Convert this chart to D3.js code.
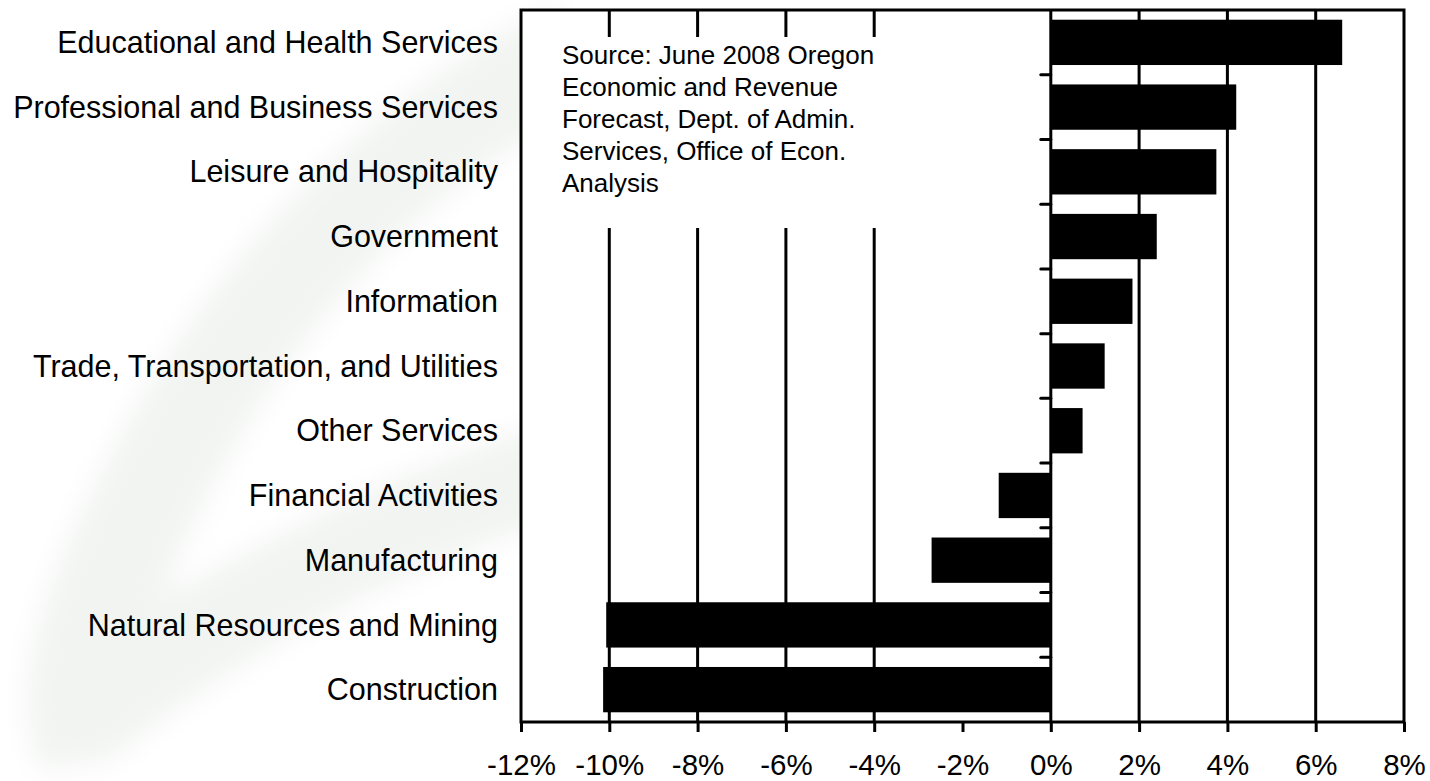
<!DOCTYPE html>
<html>
<head>
<meta charset="utf-8">
<script src="https://cdn.jsdelivr.net/npm/d3@7"></script>
<style>
  html, body { margin: 0; padding: 0; background: #ffffff; }
  svg { display: block; }
  text { font-family: "Liberation Sans", Arial, Helvetica, sans-serif; fill: #000; }
</style>
</head>
<body>
<svg id="chart" width="1430" height="781"></svg>
<script>
// ---- data ----
const categories = [
  "Educational and Health Services",
  "Professional and Business Services",
  "Leisure and Hospitality",
  "Government",
  "Information",
  "Trade, Transportation, and Utilities",
  "Other Services",
  "Financial Activities",
  "Manufacturing",
  "Natural Resources and Mining",
  "Construction"
];
const values = [6.6, 4.2, 3.75, 2.4, 1.85, 1.22, 0.72, -1.18, -2.7, -10.07, -10.14];
const xTicks = [-12, -10, -8, -6, -4, -2, 0, 2, 4, 6, 8];
const gridTicks = [-10, -8, -6, -4, 2, 4, 6];
const sourceLines = [
  "Source: June 2008 Oregon",
  "Economic and Revenue",
  "Forecast, Dept. of Admin.",
  "Services, Office of Econ.",
  "Analysis"
];

// ---- layout ----
const plot = { left: 521, right: 1404, top: 10, bottom: 722 };
const svg = d3.select("#chart");

// faint watermark swoosh in background
const defs = svg.append("defs");
defs.append("filter").attr("id", "blur").append("feGaussianBlur").attr("stdDeviation", 14);
svg.append("path")
  .attr("d", "M560,0 C330,120 170,300 60,560 C20,660 20,720 40,770 L110,760 C260,640 420,560 560,520 L560,420 C420,460 300,520 160,600 C250,380 380,220 560,120 Z")
  .attr("fill", "#f2f4f2")
  .attr("filter", "url(#blur)");

const x = d3.scaleLinear().domain([-12, 8]).range([plot.left, plot.right]);
const y = d3.scaleBand().domain(categories).range([plot.top, plot.bottom])
  .paddingInner(0.3).paddingOuter(0.15);

// plot background
svg.append("rect")
  .attr("x", plot.left).attr("y", plot.top)
  .attr("width", plot.right - plot.left).attr("height", plot.bottom - plot.top)
  .attr("fill", "#ffffff");

// gridlines
svg.append("g").selectAll("line").data(gridTicks).join("line")
  .attr("x1", d => x(d)).attr("x2", d => x(d))
  .attr("y1", plot.top).attr("y2", plot.bottom)
  .attr("stroke", "#000").attr("stroke-width", 3);

// source text box (white, hides gridlines)
const boxX = 541, boxY = 37, boxW = 440, boxH = 191;
svg.append("rect").attr("x", boxX).attr("y", boxY).attr("width", boxW).attr("height", boxH).attr("fill", "#fff");
svg.append("g").selectAll("text").data(sourceLines).join("text")
  .attr("x", 562)
  .attr("y", (d, i) => 64 + i * 32)
  .attr("font-size", 26)
  .text(d => d);

// bars
svg.append("g").selectAll("rect").data(values).join("rect")
  .attr("x", d => x(Math.min(0, d)))
  .attr("width", d => Math.abs(x(d) - x(0)))
  .attr("y", (d, i) => y(categories[i]))
  .attr("height", y.bandwidth())
  .attr("fill", "#000");

// zero axis line
svg.append("line")
  .attr("x1", x(0)).attr("x2", x(0))
  .attr("y1", plot.top).attr("y2", plot.bottom)
  .attr("stroke", "#000").attr("stroke-width", 3);

// category tick marks at band boundaries on zero axis
const boundaries = categories.slice(1).map(c => y(c) - y.step() * y.paddingInner() / 2);
svg.append("g").selectAll("line").data(boundaries).join("line")
  .attr("x1", x(0) - 10).attr("x2", x(0))
  .attr("y1", d => d).attr("y2", d => d)
  .attr("stroke", "#000").attr("stroke-width", 3).attr("stroke-linecap", "round");

// frame
svg.append("rect")
  .attr("x", plot.left).attr("y", plot.top)
  .attr("width", plot.right - plot.left).attr("height", plot.bottom - plot.top)
  .attr("fill", "none").attr("stroke", "#000").attr("stroke-width", 3);

// bottom x axis
const xAxis = d3.axisBottom(x).tickValues(xTicks).tickSize(10).tickPadding(22)
  .tickFormat(d => d + "%");
const gx = svg.append("g").attr("transform", `translate(0,${plot.bottom})`).call(xAxis);
gx.select(".domain").remove();
gx.selectAll(".tick line").attr("stroke", "#000").attr("stroke-width", 3);
gx.selectAll(".tick text").attr("font-size", 29.5)
  .attr("font-family", '"Liberation Sans", Arial, sans-serif').attr("fill", "#000");

// category labels
svg.append("g").selectAll("text").data(categories).join("text")
  .attr("x", 498)
  .attr("y", d => y(d) + y.bandwidth() / 2)
  .attr("dy", "0.35em")
  .attr("text-anchor", "end")
  .attr("font-size", 30.5)
  .text(d => d);
</script>
</body>
</html>
